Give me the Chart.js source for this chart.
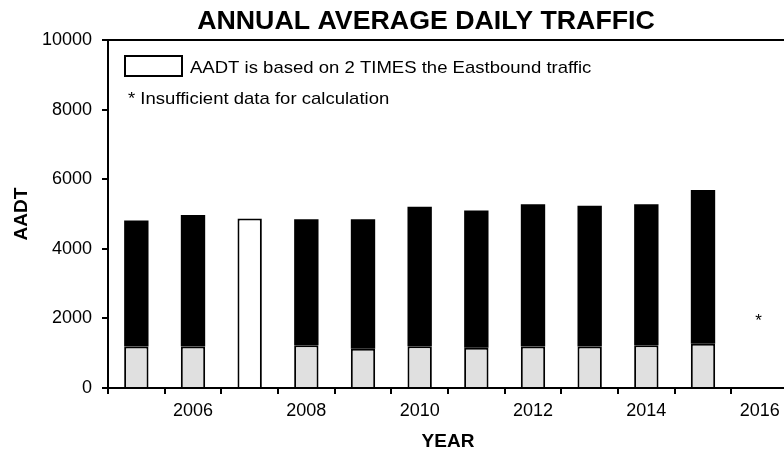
<!DOCTYPE html>
<html>
<head>
<meta charset="utf-8">
<script src="https://cdn.jsdelivr.net/npm/chart.js@4"></script>
<style>
html, body { margin: 0; padding: 0; background: #fff; overflow: hidden; }
#wrap { width: 784px; height: 453px; overflow: hidden; }
</style>
</head>
<body>
<div id="wrap"><canvas id="aadtChart" width="800" height="453"></canvas></div>
<script>
// years on the x axis
var years = ['2005','2006','2007','2008','2009','2010','2011','2012','2013','2014','2015','2016'];
// total AADT per year (null = no data)
var totals = [4810, 4970, 4870, 4850, 4850, 5210, 5100, 5280, 5240, 5280, 5690, null];
// light grey lower part of each bar
var lowerPart = [1190, 1190, 4870, 1230, 1130, 1200, 1160, 1190, 1190, 1230, 1270, null];
// years where AADT = 2 x eastbound (drawn as open bar)
var doubledEastbound = [false, false, true, false, false, false, false, false, false, false, false, false];
// years with insufficient data, and the height of the asterisk
var insufficientYears = ['2016'];
var asteriskLevel = 2000;

var yTicks = [0, 2000, 4000, 6000, 8000, 10000];

var upperPart = totals.map(function(t, i) {
    if (t === null) return null;
    return t - lowerPart[i];
});

var FONT = "'Liberation Sans', Arial, sans-serif";

// text drawn a bit wider than tall, like the source image
function wideText(ctx, txt, x, y, sx) {
    ctx.save();
    ctx.translate(x, y);
    ctx.scale(sx, 1);
    ctx.fillText(txt, 0, 0);
    ctx.restore();
}

var extras = {
    id: 'extras',
    afterDraw: function(chart) {
        var ctx = chart.ctx;
        var a = chart.chartArea;
        ctx.save();
        // top frame line
        ctx.strokeStyle = '#000';
        ctx.lineWidth = 2;
        ctx.beginPath();
        ctx.moveTo(a.left - 1, a.top);
        ctx.lineTo(a.right, a.top);
        ctx.stroke();

        // title
        ctx.fillStyle = '#000';
        ctx.font = 'bold 25px ' + FONT;
        ctx.textAlign = 'center';
        ctx.textBaseline = 'alphabetic';
        wideText(ctx, 'ANNUAL AVERAGE DAILY TRAFFIC', 426, 29, 1.07);

        // legend box and notes
        ctx.lineWidth = 2;
        ctx.strokeRect(125, 56, 57, 20);
        ctx.font = '17px ' + FONT;
        ctx.textAlign = 'left';
        wideText(ctx, 'AADT is based on 2 TIMES the Eastbound traffic', 190, 73, 1.09);
        wideText(ctx, '* Insufficient data for calculation', 128, 104, 1.09);

        // asterisks for years without data
        var x = chart.scales.x, y = chart.scales.y;
        ctx.font = '17px ' + FONT;
        ctx.textAlign = 'center';
        insufficientYears.forEach(function(yr) {
            var px = x.getPixelForValue(years.indexOf(yr));
            var py = y.getPixelForValue(asteriskLevel);
            ctx.fillText('*', px - 1, py + 7.5);
        });
        ctx.restore();
    }
};

new Chart('aadtChart', {
    type: 'bar',
    data: {
        labels: years,
        datasets: [{
            label: 'lower',
            data: lowerPart,
            backgroundColor: doubledEastbound.map(function(d) { return d ? '#ffffff' : '#e0e0e0'; }),
            borderColor: '#000',
            borderWidth: 2
        }, {
            label: 'upper',
            data: upperPart,
            backgroundColor: '#000',
            borderColor: '#000',
            borderWidth: 0
        }]
    },
    options: {
        responsive: false,
        animation: false,
        devicePixelRatio: 1,
        barPercentage: 0.43,
        categoryPercentage: 1,
        layout: { padding: { left: 0, right: 12, top: 40, bottom: 0 } },
        plugins: {
            legend: { display: false },
            title: { display: false },
            tooltip: { enabled: false }
        },
        scales: {
            x: {
                stacked: true,
                offset: true,
                grid: { offset: true, drawOnChartArea: false, color: '#000', lineWidth: 2, tickLength: 6 },
                border: { color: '#000', width: 2 },
                ticks: {
                    autoSkip: false,
                    maxRotation: 0,
                    color: '#000',
                    font: { family: FONT, size: 18 },
                    padding: 6,
                    callback: function(v, i) {
                        var yr = parseInt(years[i], 10);
                        return yr % 2 === 0 ? years[i] : '';
                    }
                },
                title: {
                    display: true,
                    text: 'YEAR',
                    color: '#000',
                    font: { family: FONT, size: 19, weight: 'bold' },
                    padding: { top: 3, bottom: 0 }
                },
                afterFit: function(s) { s.height = 65; }
            },
            y: {
                stacked: true,
                min: 0,
                max: 10000,
                afterBuildTicks: function(s) { s.ticks = yTicks.map(function(v) { return { value: v }; }); },
                grid: { drawOnChartArea: false, color: '#000', lineWidth: 2, tickLength: 6 },
                border: { color: '#000', width: 2 },
                ticks: {
                    color: '#000',
                    font: { family: FONT, size: 18 },
                    padding: 10,
                    callback: function(v) { return String(v); }
                },
                title: {
                    display: true,
                    text: 'AADT',
                    color: '#000',
                    font: { family: FONT, size: 19, weight: 'bold' },
                    padding: { top: 10, bottom: 0 }
                },
                afterFit: function(s) { s.width = 108; }
            }
        }
    },
    plugins: [extras]
});
</script>
</body>
</html>
